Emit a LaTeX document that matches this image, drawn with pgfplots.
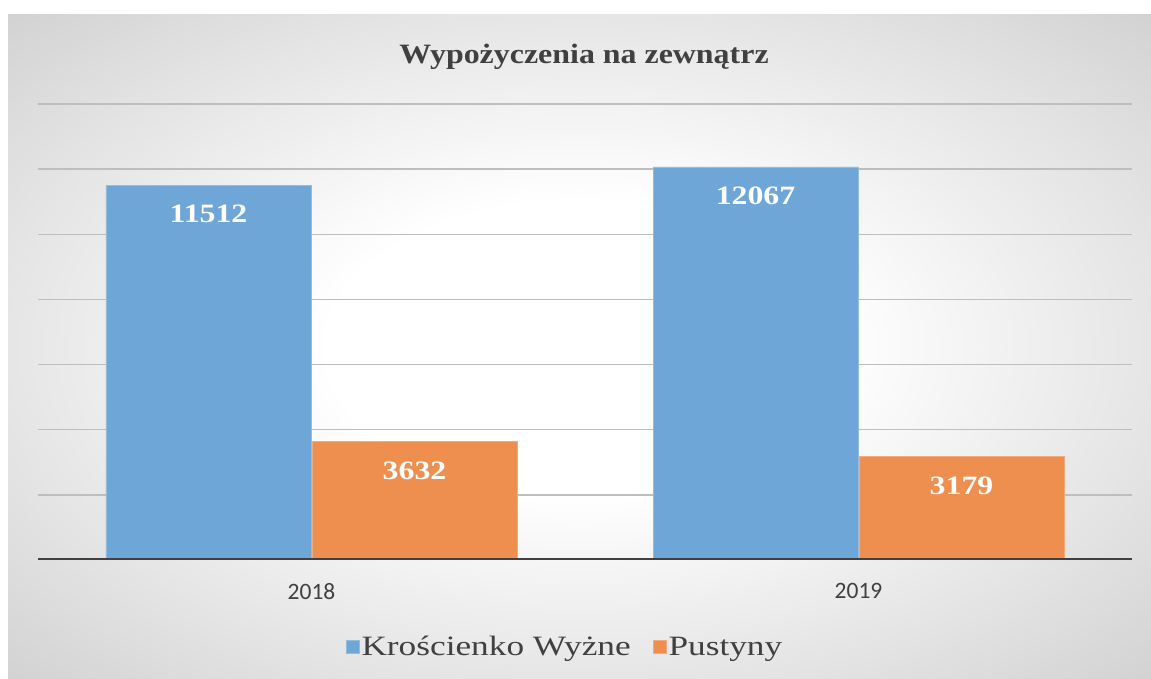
\documentclass[border=0pt]{standalone}
\usepackage{pgfplots}
\pgfplotsset{compat=1.18}
\usepackage{fontspec}
\setmainfont{Liberation Serif}
\newfontfamily\tickfont{Carlito}
\newfontfamily\titlefont[FakeStretch=1.14]{Liberation Serif}
\newfontfamily\legfont[FakeStretch=1.26]{Liberation Serif}
\newfontfamily\labfont[FakeStretch=1.2]{Liberation Serif}
\definecolor{barblue}{RGB}{111,166,216}
\definecolor{barorange}{RGB}{239,143,79}
\definecolor{txt}{RGB}{64,64,64}
\definecolor{bgouter}{RGB}{198,198,198}
\definecolor{bgmid}{RGB}{226,226,226}
\definecolor{axisdark}{RGB}{64,64,64}
\definecolor{gridc}{RGB}{190,190,190}
\pgfdeclareradialshading{bgshade}{\pgfpoint{0bp}{0bp}}{color(0bp)=(white); color(11bp)=(white); color(27bp)=(bgmid); color(42bp)=(bgouter); color(50bp)=(bgouter)}
\begin{document}
\begin{tikzpicture}
\fill[white] (0pt,0pt) rectangle (1151pt,679pt);
\shade[shading=bgshade] (8pt,0pt) rectangle (1151pt,664pt);
\begin{axis}[
  at={(38pt,119pt)}, anchor=south west,
  scale only axis, width=1094pt, height=456pt,
  xmin=-0.5, xmax=1.5, ymin=0, ymax=14000,
  ybar=1pt, bar width=205pt,
  axis line style={draw=none},
  xtick={0,1}, xticklabels={2018,2019},
  ytick={2000,4000,...,14000}, yticklabels={},
  scaled y ticks=false,
  /pgf/number format/1000 sep={},
  /pgf/number format/assume math mode=true,
  ymajorgrids, grid style={color=gridc, line width=1.4pt},
  major tick length=0pt,
  xticklabel style={font=\tickfont\fontsize{23.5}{27}\selectfont, text=txt, yshift=-20pt},
  nodes near coords,
  every node near coord/.append style={font=\labfont\bfseries\fontsize{26.5}{30}\selectfont, text=white, anchor=center, yshift=-29pt},
  legend style={at={(0.4817,-0.19)}, anchor=center, draw=none, fill=none, legend columns=2,
    font=\legfont\fontsize{28}{32}\selectfont, text=txt,
    /tikz/every even column/.append style={column sep=20pt}},
  legend image code/.code={\path[#1] (0pt,-6.5pt) rectangle (13pt,6.5pt);},
]
\addplot[fill=barblue, draw=barblue!75!white, line width=0.8pt] coordinates {(0,11512) (1,12067)};
\addplot[fill=barorange, draw=barorange!75!white, line width=0.8pt] coordinates {(0,3632) (1,3179)};
\legend{Krościenko Wyżne, Pustyny}
\draw[axisdark, line width=3pt] (rel axis cs:0,0) -- (rel axis cs:1,0);
\end{axis}
\node[font=\titlefont\bfseries\fontsize{28}{32}\selectfont, text=txt] at (584pt,622pt) {Wypożyczenia na zewnątrz};
\end{tikzpicture}
\end{document}
